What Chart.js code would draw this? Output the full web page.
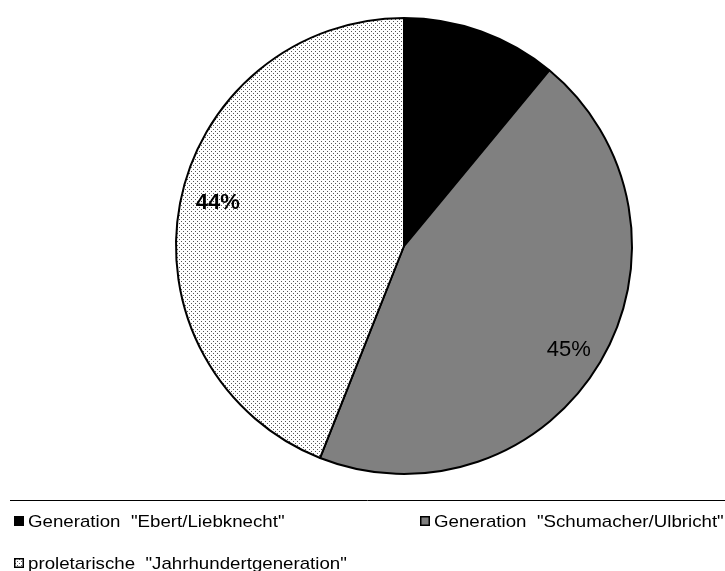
<!DOCTYPE html>
<html>
<head>
<meta charset="utf-8">
<script src="https://cdn.jsdelivr.net/npm/chart.js@4"></script>
<style>
  html, body { margin: 0; padding: 0; background: #fff; }
  #wrap { width: 725px; height: 571px; position: relative; }
</style>
</head>
<body>
<div id="wrap"><canvas id="pieChart" width="725" height="571"></canvas></div>
<script>
// Anteile der Generationen (Prozent)
const labels = ['Generation  "Ebert/Liebknecht"', 'Generation  "Schumacher/Ulbricht"', 'proletarische  "Jahrhundertgeneration"'];
const anteile = [11, 45, 44];
const beschriftung = [null, "45%", "44%"];

// Punktraster für das dritte Segment
function punktMuster() {
  const c = document.createElement("canvas");
  c.width = 4; c.height = 4;
  const g = c.getContext("2d");
  g.fillStyle = "#fff";
  g.fillRect(0, 0, 4, 4);
  g.fillStyle = "#555";
  g.fillRect(1, 1, 1, 1);
  g.fillRect(3, 3, 1, 1);
  return g.createPattern(c, "repeat");
}

const ctxPie = document.getElementById("pieChart").getContext("2d");
const farben = ["#000000", "#808080", punktMuster()];

// kleine Verschiebung der Prozentwerte
const versatz = [[0, 0], [0, 6], [2, -7]];

// Prozentwerte in den Segmenten und Legende unten
const extras = {
  id: "extras",
  afterDatasetsDraw(chart) {
    const ctx = chart.ctx;
    const arcs = chart.getDatasetMeta(0).data;
    ctx.save();
    ctx.fillStyle = "#000";
    ctx.textAlign = "center";
    ctx.textBaseline = "middle";
    arcs.forEach((arc, i) => {
      if (!beschriftung[i]) return;
      const mid = (arc.startAngle + arc.endAngle) / 2;
      const r = arc.outerRadius * 0.84;
      ctx.font = (i === 2 ? "bold " : "") + "22px 'Liberation Sans', Arial, sans-serif";
      ctx.fillText(beschriftung[i], arc.x + Math.cos(mid) * r + versatz[i][0], arc.y + Math.sin(mid) * r + versatz[i][1]);
    });

    // Trennlinie
    ctx.strokeStyle = "#000";
    ctx.lineWidth = 1;
    ctx.beginPath();
    ctx.moveTo(10, 500.5);
    ctx.lineTo(725, 500.5);
    ctx.stroke();

    // Legende
    const pos = [[14, 521], [420, 521], [14, 563]];
    ctx.textAlign = "left";
    ctx.font = "17px 'Liberation Sans', Arial, sans-serif";
    labels.forEach((lab, i) => {
      const [x, y] = pos[i];
      ctx.fillStyle = farben[i];
      ctx.fillRect(x, y - 5, 10, 10);
      ctx.strokeStyle = "#000";
      ctx.lineWidth = 1.5;
      ctx.strokeRect(x + 0.75, y - 4.25, 8.5, 8.5);
      ctx.fillStyle = "#000";
      ctx.save();
      ctx.translate(x + 14, y + 1);
      ctx.scale(1.1, 1);
      ctx.fillText(lab, 0, 0);
      ctx.restore();
    });
    ctx.restore();
  }
};

new Chart(ctxPie,
{
  type: "pie",
  data:
  {
    labels: labels,
    datasets: [
    {
      data: anteile,
      backgroundColor: farben,
      borderColor: "#000",
      borderWidth: 2
    }]
  },
  options:
  {
    responsive: false,
    animation: false,
    layout: { padding: { left: 175, right: 92, top: 17, bottom: 96 } },
    plugins:
    {
      legend: { display: false },
      tooltip: { enabled: false }
    }
  },
  plugins: [extras]
});
</script>
</body>
</html>
